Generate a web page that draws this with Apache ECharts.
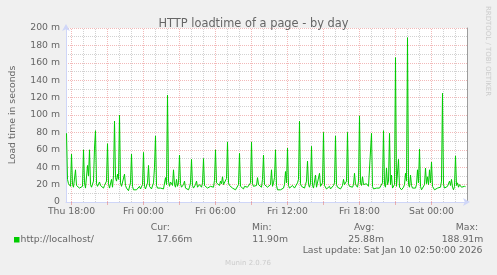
<!DOCTYPE html>
<html><head><meta charset="utf-8">
<script src="https://cdn.jsdelivr.net/npm/echarts@6/dist/echarts.min.js"></script>
<style>html,body{margin:0;padding:0;background:#F0F0F0;}#c{width:497px;height:275px;}</style>
</head><body><div id="c"></div>
<script>
// ---- data ----
const chartTitle = 'HTTP loadtime of a page - by day';
const yAxisName = 'Load time in seconds';
const seriesName = 'http://localhost/';
// sample times: minutes after Thu 00:00, one sample every 5 minutes
const sampleStart = 1055;
const sampleStep = 5;
const loadtimeMs = [
  79,26,21,19,18,55,20,17,18,37,19,17,18,16,17,15,18,60,22,16,
  18,42,30,60,20,17,19,24,62,82,21,18,17,23,19,17,20,16,19,18,
  24,67,21,16,18,26,17,30,93,28,24,32,26,100,22,18,20,17,32,19,
  16,14,13,15,22,55,18,14,13,16,14,15,13,18,15,14,20,57,18,15,
  17,22,42,18,16,15,17,22,40,76,19,16,15,17,16,16,18,15,17,28,
  20,123,24,18,23,24,19,37,20,17,26,18,22,54,21,17,18,20,24,16,
  18,15,14,17,22,49,19,16,18,20,24,17,15,20,18,17,22,50,19,17,
  18,16,17,15,18,16,19,17,25,60,22,20,21,19,24,21,29,20,18,22,
  27,69,22,19,17,20,16,18,15,14,12,15,20,56,18,16,17,15,18,16,
  19,17,15,18,22,69,21,18,20,17,19,28,20,18,22,17,26,54,20,18,
  22,17,19,16,20,37,18,22,28,60,19,14,15,13,14,15,14,16,20,35,
  22,62,19,16,18,16,19,17,16,18,17,22,26,93,21,18,17,19,16,20,
  24,47,20,17,22,64,19,16,18,31,17,15,19,33,18,16,22,80,19,17,
  15,17,16,18,15,17,16,19,22,76,20,17,16,18,15,17,19,26,20,18,
  24,80,21,18,16,19,17,20,33,20,18,17,24,99,22,19,29,20,22,18,
  21,19,18,17,20,79,18,15,16,15,16,15,16,16,15,17,22,82,20,17,
  39,20,24,79,20,31,16,14,20,166,18,16,49,17,15,14,15,17,20,33,
  24,188.91,20,17,31,19,16,15,17,16,20,37,22,61,18,14,16,15,20,39,
  21,29,20,37,22,46,18,16,14,15,14,16,15,14,17,24,125,20,16,17,
  15,18,20,24,19,26,17,14,18,53,19,22,17,20,18,17,19,17,18,17.66
];
const xTickValues = [1080, 1440, 1800, 2160, 2520, 2880];
const xTickLabels = ['Thu 18:00', 'Fri 00:00', 'Fri 06:00', 'Fri 12:00', 'Fri 18:00', 'Sat 00:00'];
const yMin = 0, yMax = 200, yStep = 20;
const statLabels = ['Cur:', 'Min:', 'Avg:', 'Max:'];
const statValues = ['17.66m', '11.90m', '25.88m', '188.91m'];
const lastUpdate = 'Last update: Sat Jan 10 02:50:00 2026';
const footer = 'Munin 2.0.76';
const watermark = 'RRDTOOL / TOBI OETIKER';

// ---- styles ----
const FONT = 'DejaVu Sans';
const FONT_COLOR = '#666666';
const GRID_COLOR = 'rgba(143,143,143,0.4)';
const MGRID_COLOR = 'rgba(222,79,79,0.4)';
const AXIS_COLOR = '#CFD6F8';
const LINE_COLOR = '#00CC00';
const xMin = 1052.5, xMax = 3057.5;

const points = loadtimeMs.map((v, i) => [sampleStart + i * sampleStep, v]);
const hourLines = [];
for (let h = Math.ceil(xMin / 60) * 60; h < xMax; h += 60) hourLines.push(h);
const gridLineData = hourLines.map(v => ({
  xAxis: v,
  lineStyle: { color: (v % 180 === 0) ? MGRID_COLOR : GRID_COLOR, type: [1, 1], width: 1 }
}));
const majorLines = hourLines.filter(v => v % 180 === 0);

const chart = echarts.init(document.getElementById('c'), null, { renderer: 'canvas' });
const statX = [[150.7, 156.7], [252, 252.3], [354, 348.3], [455.7, 441.7]];
const graphics = [
  { type: 'rect', shape: { x: 14, y: 237, width: 5.5, height: 5.5 }, style: { fill: LINE_COLOR } },
  { type: 'text', x: 20.5, y: 239.5, style: { text: seriesName, font: '9.3px "' + FONT + '"', fill: FONT_COLOR, verticalAlign: 'middle' } },
  { type: 'text', x: 482.5, y: 251, style: { text: lastUpdate, font: '9.3px "' + FONT + '"', fill: FONT_COLOR, align: 'right', verticalAlign: 'middle' } },
  { type: 'text', x: 248, y: 263, style: { text: footer, font: '7px "' + FONT + '"', fill: '#CCCCCC', align: 'center', verticalAlign: 'middle' } },
  { type: 'text', x: 487.5, y: 51, rotation: -Math.PI / 2, style: { text: watermark, font: '7px "' + FONT + '"', fill: '#CCCCCC', align: 'center', verticalAlign: 'middle' } }
];
statLabels.forEach((s, k) => {
  graphics.push({ type: 'text', x: statX[k][0], y: 227.5, style: { text: s, font: '9.3px "' + FONT + '"', fill: FONT_COLOR, verticalAlign: 'middle' } });
  graphics.push({ type: 'text', x: statX[k][1], y: 239.5, style: { text: statValues[k], font: '9.3px "' + FONT + '"', fill: FONT_COLOR, verticalAlign: 'middle' } });
});

chart.setOption({
  animation: false,
  backgroundColor: '#F0F0F0',
  textStyle: { fontFamily: FONT },
  title: {
    text: chartTitle, left: 248.5, top: 14, textAlign: 'center',
    textStyle: { fontFamily: FONT, fontSize: 11.4, fontWeight: 'normal', color: FONT_COLOR }
  },
  grid: { left: 66, right: 30, top: 28, bottom: 73, show: true, backgroundColor: '#FFFFFF', borderWidth: 0 },
  xAxis: {
    type: 'value', min: xMin, max: xMax,
    axisLine: { show: true, lineStyle: { color: AXIS_COLOR, width: 1 }, symbol: ['none', 'arrow'], symbolSize: [6, 7], symbolOffset: [0, 3] },
    axisTick: { show: true, customValues: majorLines, length: 3, lineStyle: { color: MGRID_COLOR } },
    axisLabel: {
      customValues: xTickValues, margin: 5, color: FONT_COLOR, fontFamily: FONT, fontSize: 9.3,
      formatter: v => xTickLabels[xTickValues.indexOf(v)] || ''
    },
    splitLine: { show: false }
  },
  yAxis: [{
    type: 'value', min: yMin, max: yMax, interval: yStep,
    name: yAxisName, nameLocation: 'middle', nameRotate: 90, nameGap: 49,
    nameTextStyle: { fontFamily: FONT, fontSize: 9.3, color: FONT_COLOR },
    axisLine: { show: true, lineStyle: { color: AXIS_COLOR, width: 1 }, symbol: ['none', 'arrow'], symbolSize: [6, 7], symbolOffset: [0, 4] },
    axisTick: { show: false },
    axisLabel: { margin: 6, color: FONT_COLOR, fontFamily: FONT, fontSize: 9.3, formatter: v => v === 0 ? '0' : v + ' m' },
    splitLine: { show: true, lineStyle: { color: MGRID_COLOR, type: [1, 1], width: 1 } },
    minorTick: { show: false, splitNumber: 2 },
    minorSplitLine: { show: true, lineStyle: { color: GRID_COLOR, type: [1, 1], width: 1 } }
  }, {
    type: 'value', min: yMin, max: yMax, position: 'right',
    axisLine: { show: true, lineStyle: { color: '#9C9C9C', width: 1 } },
    axisTick: { show: false }, axisLabel: { show: false }, splitLine: { show: false }
  }],
  series: [
    {
      type: 'line', data: [], silent: true,
      markLine: { silent: true, z: 1, symbol: ['none', 'none'], label: { show: false }, animation: false, data: gridLineData }
    },
    {
      name: seriesName, type: 'line', z: 3, data: points, showSymbol: false, symbol: 'none',
      lineStyle: { color: LINE_COLOR, width: 1 }, itemStyle: { color: LINE_COLOR }
    }
  ],
  graphic: graphics
});
</script></body></html>
